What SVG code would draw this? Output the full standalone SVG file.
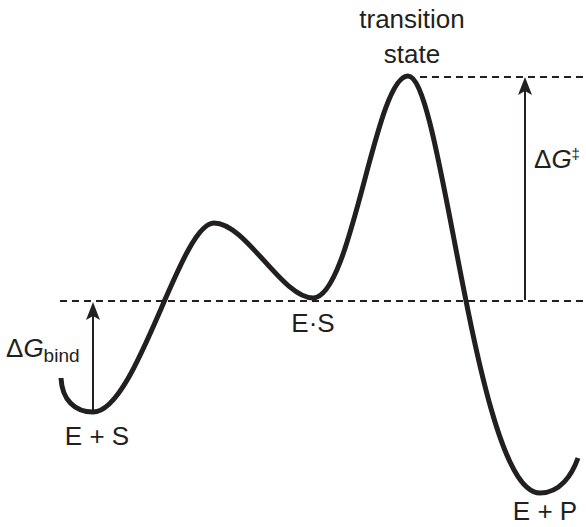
<svg xmlns="http://www.w3.org/2000/svg" width="586" height="527" viewBox="0 0 586 527">
<style>
.t{font-family:"Liberation Sans",Arial,sans-serif;font-size:26px;fill:#231f20}
.dash{stroke:#231f20;stroke-width:2;stroke-dasharray:7,5;fill:none}
.arr{stroke:#231f20;stroke-width:2;fill:none}
.head{fill:#231f20}
.curve{stroke:#231f20;stroke-width:5;fill:none;stroke-linecap:butt}
</style>
<rect width="586" height="527" fill="#fff"/>
<g id="connectors">
<line class="dash" x1="60" y1="301" x2="584" y2="301"/>
<line class="dash" x1="420" y1="77" x2="584" y2="77"/>
<path class="arr" d="M93 412 L93 316"/>
<path class="head" d="M93 302 L100 320 L93 316 L86 320 Z"/>
<path class="arr" d="M525 300 L525 91"/>
<path class="head" d="M525 77 L532 95 L525 91 L518 95 Z"/>
<path id="energy-curve" class="curve" d="M61 378 C62 400 75 412 93 412 C137 412 180 223 214 223 C246 223 282 298 313 298 C352 298 375 76 408 76 C443 76 475 493 540 493 C560 493 572 475 578 458"/>
</g>
<g id="transition-state">
<text class="t" x="412" y="28" text-anchor="middle">transition</text>
<text class="t" x="412" y="63" text-anchor="middle">state</text>
</g>
<g id="dG-double-dagger">
<text class="t" x="534" y="168">Δ<tspan font-style="italic">G</tspan><tspan font-size="15" dy="-9">‡</tspan></text>
</g>
<g id="dG-bind">
<text class="t" x="6" y="357">Δ<tspan font-style="italic">G</tspan><tspan font-size="19" dy="5">bind</tspan></text>
</g>
<g id="ES">
<text class="t" x="313" y="332" text-anchor="middle">E·S</text>
</g>
<g id="E-plus-S">
<text class="t" x="97" y="445" text-anchor="middle">E + S</text>
</g>
<g id="E-plus-P">
<text class="t" x="545" y="520" text-anchor="middle">E + P</text>
</g>
</svg>
